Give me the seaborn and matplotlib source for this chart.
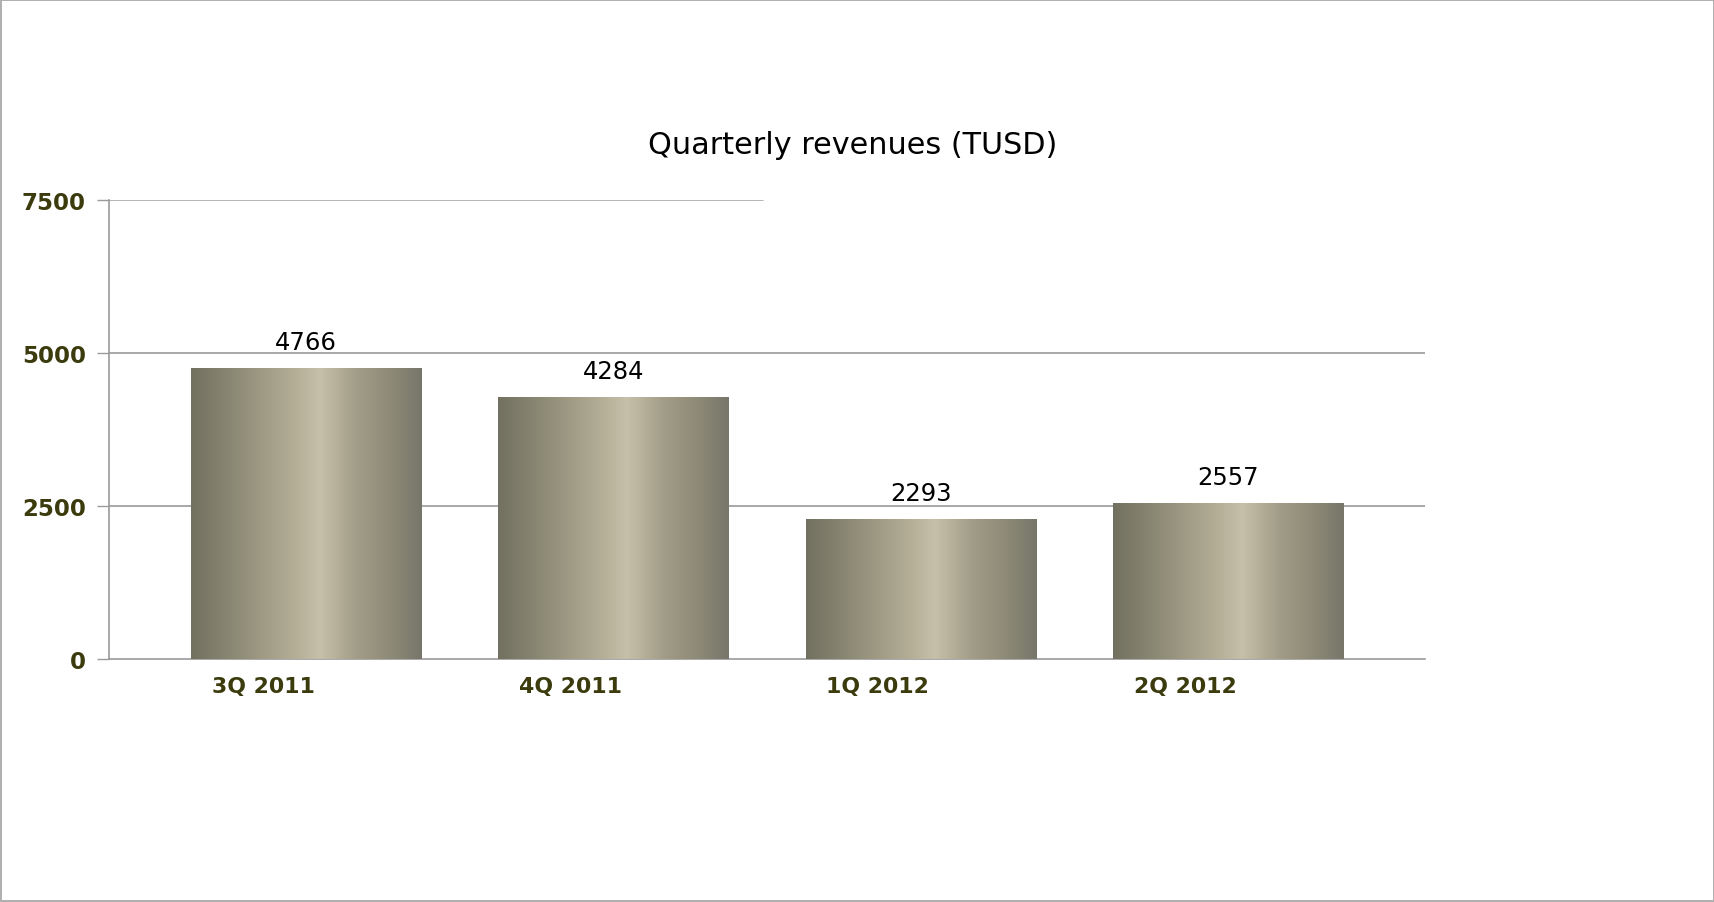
import numpy as np
import matplotlib.pyplot as plt
import seaborn as sns
from matplotlib.colors import LinearSegmentedColormap

sns.set_style("white")

# data
quarters = ['3Q 2011', '4Q 2011', '1Q 2012', '2Q 2012']
revenues = [4766, 4284, 2293, 2557]
y_ticks = [0, 2500, 5000, 7500]

label_color = '#3b3b0e'
grid_color = '#9a9a9a'

# cylinder-like shading across each bar
bar_cmap = LinearSegmentedColormap.from_list(
    'cyl',
    [(0.0, '#727060'), (0.2, '#8e8b76'), (0.45, '#b4ae97'),
     (0.56, '#c6bfa9'), (0.72, '#a29d88'), (0.88, '#8b8875'), (1.0, '#77766a')])

fig = plt.figure(figsize=(17.15, 9.03), dpi=100)
fig.patch.set_edgecolor('#b0b0b0')
fig.patch.set_linewidth(1.5)
ax = fig.add_axes([0.0638, 0.269, 0.767, 0.508])

sns.barplot(x=quarters, y=revenues, color='#a09c87', width=0.75, ax=ax, zorder=2)

# gradient fill clipped to every bar
grad = np.linspace(0, 1, 256).reshape(1, -1)
for patch in ax.patches:
    x0, y0 = patch.get_x(), patch.get_y()
    w, h = patch.get_width(), patch.get_height()
    im = ax.imshow(grad, cmap=bar_cmap, aspect='auto', extent=[x0, x0 + w, y0, y0 + h],
                   zorder=3, interpolation='bicubic')
    im.set_clip_path(patch)
    patch.set_edgecolor('none')

ax.bar_label(ax.containers[0], labels=[str(v) for v in revenues], padding=10,
             fontsize=17.5, color='black', family='DejaVu Sans', zorder=5)

# gridlines (top one only runs half way, as in the original)
for yv in [2500, 5000]:
    ax.axhline(yv, color=grid_color, lw=1.2, zorder=0)
ax.axhline(7500, xmax=0.497, color='#a8a8a8', lw=1.2, zorder=0)

ax.set_xlim(-0.64, 3.64)
ax.set_ylim(0, 7500)
ax.set_yticks(y_ticks)
ax.set_yticklabels([str(t) for t in y_ticks], fontsize=16.5, fontweight='bold',
                   color=label_color, family='DejaVu Sans')

# category boundary ticks and labels shifted left (3D look)
idx = np.arange(len(quarters))
ax.set_xticks(np.append(idx - 0.64, 3.36))
ax.set_xticklabels([])
ax.set_xticks(idx - 0.14, minor=True)
ax.set_xticklabels(quarters, minor=True, fontsize=15.8, fontweight='bold',
                   color=label_color, family='DejaVu Sans')
ax.tick_params(axis='x', which='major', length=5, width=1, color=grid_color, direction='out')
ax.tick_params(axis='x', which='minor', length=0, pad=12)
ax.tick_params(axis='y', length=9, width=1, color=grid_color, pad=8, left=True)
ax.set_xlabel('')

for side in ['top', 'right']:
    ax.spines[side].set_visible(False)
for side in ['left', 'bottom']:
    ax.spines[side].set_color(grid_color)
    ax.spines[side].set_linewidth(1.2)

fig.text(0.497, 0.839, 'Quarterly revenues (TUSD)', ha='center', va='center',
         fontsize=21.8, color='black', family='DejaVu Sans')

fig.savefig('out.png', dpi=100)
